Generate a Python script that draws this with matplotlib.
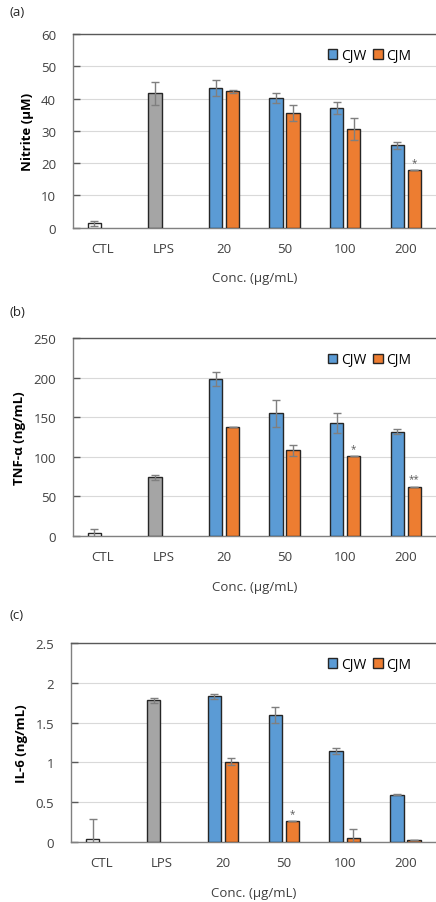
import matplotlib.pyplot as plt
import numpy as np

plt.rcParams['font.family'] = ['Open Sans', 'DejaVu Sans']

categorias = ['CTL', 'LPS', '20', '50', '100', '200']

# (a) Nitrite
nitrito_ctl = [1.4, 41.6]
nitrito_ctl_err = [0.8, 3.5]
nitrito_cjw = [43.3, 40.2, 37.0, 25.6]
nitrito_cjw_err = [2.4, 1.6, 1.9, 1.1]
nitrito_cjm = [42.2, 35.5, 30.5, 17.8]
nitrito_cjm_err = [0.4, 2.4, 3.4, 0.0]
nitrito_sig = ['', '', '', '*']

# (b) TNF-a
tnf_ctl = [3.4, 74.0]
tnf_ctl_err = [5.0, 3.5]
tnf_cjw = [198.0, 155.0, 143.0, 131.7]
tnf_cjw_err = [8.5, 17.0, 12.7, 3.0]
tnf_cjm = [137.6, 108.2, 100.6, 62.3]
tnf_cjm_err = [0.0, 7.0, 0.0, 0.0]
tnf_sig = ['', '', '*', '**']

# (c) IL-6
il6_ctl = [0.041, 1.78]
il6_ctl_err = [0.25, 0.03]
il6_cjw = [1.827, 1.60, 1.147, 0.596]
il6_cjw_err = [0.035, 0.10, 0.035, 0.008]
il6_cjm = [1.009, 0.263, 0.058, 0.025]
il6_cjm_err = [0.045, 0.0, 0.11, 0.0]
il6_sig = ['', '*', '', '']

paineis = [
    ('(a)', 'Nitrite (\u03bcM)', 60, 10, '%d',
     nitrito_ctl, nitrito_ctl_err, nitrito_cjw, nitrito_cjw_err, nitrito_cjm, nitrito_cjm_err, nitrito_sig),
    ('(b)', 'TNF-\u03b1 (ng/mL)', 250, 50, '%d',
     tnf_ctl, tnf_ctl_err, tnf_cjw, tnf_cjw_err, tnf_cjm, tnf_cjm_err, tnf_sig),
    ('(c)', 'IL-6 (ng/mL)', 2.5, 0.5, '%g',
     il6_ctl, il6_ctl_err, il6_cjw, il6_cjw_err, il6_cjm, il6_cjm_err, il6_sig),
]

# posicoes dos eixos em pixels (esq, topo, base)
posicoes = [(72.7, 35.0, 228.7), (72.7, 339.0, 537.0), (70.7, 643.7, 843.3)]
rotulo_y = [13, 313, 616]

W, H = 436, 903
fig = plt.figure(figsize=(W / 100, H / 100), dpi=100)

azul = '#5B9BD5'
laranja = '#ED7D31'
cinza = '#A5A5A5'
borda = '#262626'
cor_err = '#7F7F7F'
cor_texto = '#404040'

larg = 0.22
desl = 0.14

for k, (letra, ylabel, ymax, passo, fmt, ctl, ctl_e, cjw, cjw_e, cjm, cjm_e, sig) in enumerate(paineis):
    esq, topo, base = posicoes[k]
    ax = fig.add_axes([esq / W, 1 - base / H, (W - esq) / W, (base - topo) / H])

    x = np.arange(len(categorias))
    kw_err = dict(ecolor=cor_err, capsize=3, error_kw=dict(elinewidth=1, capthick=1))

    ax.bar(x[:2] - desl, ctl, larg, yerr=ctl_e, color=['white', cinza],
           edgecolor=borda, linewidth=1, zorder=3, **kw_err)
    b1 = ax.bar(x[2:] - desl, cjw, larg, yerr=cjw_e, color=azul,
                edgecolor=borda, linewidth=1, zorder=3, label='CJW', **kw_err)
    b2 = ax.bar(x[2:] + desl, cjm, larg, yerr=cjm_e, color=laranja,
                edgecolor=borda, linewidth=1, zorder=3, label='CJM', **kw_err)

    for xi, v, e, s in zip(x[2:] + desl, cjm, cjm_e, sig):
        if s:
            ax.text(xi, v + e + ymax * 0.012, s, ha='center', va='bottom',
                    fontsize=7, color='#595959')

    ax.set_xlim(-0.5, 5.5)
    ax.set_ylim(0, ymax)
    ax.set_yticks(np.arange(0, ymax + passo / 2, passo))
    ax.yaxis.set_major_formatter(plt.FormatStrFormatter(fmt))
    ax.set_xticks(x)
    ax.set_xticklabels(categorias)

    ax.grid(axis='y', color='#D9D9D9', linewidth=0.8, zorder=0)
    ax.set_axisbelow(True)
    ax.tick_params(axis='y', direction='in', length=5, width=1, color='#595959',
                   labelsize=9.5, labelcolor=cor_texto, pad=12)
    ax.tick_params(axis='x', length=0, labelsize=9.5, labelcolor=cor_texto, pad=10)

    for lado in ['left', 'bottom', 'top']:
        ax.spines[lado].set_color('#808080')
        ax.spines[lado].set_linewidth(1)
    ax.spines['top'].set_color('#595959')
    ax.spines['right'].set_visible(False)

    ax.set_ylabel(ylabel, fontsize=9.5, fontweight='bold', color='black', labelpad=5)
    ax.set_xlabel('Conc. (\u03bcg/mL)', fontsize=9.5, color=cor_texto, labelpad=12)

    ax.legend(handles=[b1, b2], loc='upper right', bbox_to_anchor=(0.955, 0.97), ncol=2,
              frameon=False, fontsize=10, handlelength=0.7, handleheight=0.7,
              handletextpad=0.25, columnspacing=0.5, borderaxespad=0.2)

    fig.text(9 / W, 1 - rotulo_y[k] / H, letra, fontsize=9.5, color='#262626',
             ha='left', va='center')

fig.savefig('out.png', dpi=100)
